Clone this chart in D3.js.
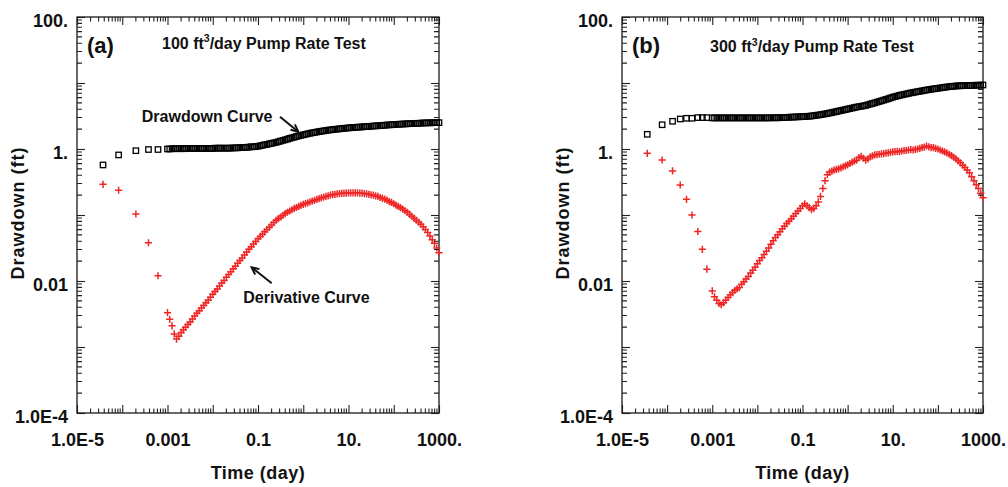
<!DOCTYPE html>
<html>
<head>
<meta charset="utf-8">
<script src="https://cdn.jsdelivr.net/npm/d3@7"></script>
<style>
  body { margin: 0; background: #fff; }
  svg text { font-family: "Liberation Sans", Arial, sans-serif; font-weight: bold; fill: #111; }
</style>
</head>
<body>
<script>
// axis tick labels
const xTickValues = [1e-5, 1e-3, 1e-1, 10, 1000];
const xTickLabels = ["1.0E-5", "0.001", "0.1", "10.", "1000."];
const yTickValues = [1e-4, 1e-2, 1, 100];
const yTickLabels = ["1.0E-4", "0.01", "1.", "100."];
const xDecades = [1e-5, 1e-4, 1e-3, 1e-2, 1e-1, 1, 10, 100, 1000];
const yDecades = [1e-4, 1e-3, 1e-2, 1e-1, 1, 10, 100];

// sample times (day) after the first few readings
const timeGrid = [
  1.00e-3, 1.12e-3, 1.26e-3, 1.41e-3, 1.58e-3, 1.78e-3, 2.00e-3, 2.24e-3, 2.51e-3, 2.82e-3,
  3.16e-3, 3.55e-3, 3.98e-3, 4.47e-3, 5.01e-3, 5.62e-3, 6.31e-3, 7.08e-3, 7.94e-3, 8.91e-3,
  1.00e-2, 1.12e-2, 1.26e-2, 1.41e-2, 1.58e-2, 1.78e-2, 2.00e-2, 2.24e-2, 2.51e-2, 2.82e-2,
  3.16e-2, 3.55e-2, 3.98e-2, 4.47e-2, 5.01e-2, 5.62e-2, 6.31e-2, 7.08e-2, 7.94e-2, 8.91e-2,
  1.00e-1, 1.12e-1, 1.26e-1, 1.41e-1, 1.58e-1, 1.78e-1, 2.00e-1, 2.24e-1, 2.51e-1, 2.82e-1,
  3.16e-1, 3.55e-1, 3.98e-1, 4.47e-1, 5.01e-1, 5.62e-1, 6.31e-1, 7.08e-1, 7.94e-1, 8.91e-1,
  1.00, 1.12, 1.26, 1.41, 1.58, 1.78, 2.00, 2.24, 2.51, 2.82,
  3.16, 3.55, 3.98, 4.47, 5.01, 5.62, 6.31, 7.08, 7.94, 8.91,
  10.0, 11.2, 12.6, 14.1, 15.8, 17.8, 20.0, 22.4, 25.1, 28.2,
  31.6, 35.5, 39.8, 44.7, 50.1, 56.2, 63.1, 70.8, 79.4, 89.1,
  100, 112, 126, 141, 158, 178, 200, 224, 251, 282,
  316, 355, 398, 447, 501, 562, 631, 708, 794, 891,
  1000
];

// (a) 100 ft3/day
const earlyTimeA = [3.76e-5, 8.32e-5, 2.0e-4, 3.8e-4, 6.17e-4];
const earlyDrawA = [0.573, 0.813, 0.942, 0.982, 0.982];
const earlyDerivA = [0.292, 0.237, 0.1035, 0.038, 0.012];
const drawA = [
  1.00, 1.00, 1.01, 1.01, 1.01, 1.01, 1.01, 1.01, 1.02, 1.02, 1.02, 1.02, 1.02, 1.02, 1.02, 1.02, 1.02, 1.02, 1.02, 1.02,
  1.02, 1.03, 1.03, 1.03, 1.03, 1.03, 1.03, 1.03, 1.03, 1.04, 1.04, 1.04, 1.05, 1.05, 1.06, 1.06, 1.07, 1.08, 1.08, 1.09,
  1.10, 1.12, 1.14, 1.16, 1.17, 1.20, 1.22, 1.24, 1.26, 1.29, 1.32, 1.35, 1.38, 1.41, 1.45, 1.48, 1.51, 1.55, 1.58, 1.61,
  1.64, 1.67, 1.70, 1.73, 1.76, 1.78, 1.81, 1.84, 1.86, 1.88, 1.91, 1.93, 1.95, 1.97, 1.99, 2.00, 2.02, 2.04, 2.06, 2.07,
  2.09, 2.10, 2.11, 2.13, 2.14, 2.15, 2.16, 2.18, 2.19, 2.20, 2.21, 2.23, 2.24, 2.25, 2.26, 2.28, 2.29, 2.31, 2.32, 2.33,
  2.34, 2.35, 2.37, 2.38, 2.39, 2.40, 2.41, 2.42, 2.43, 2.44, 2.45, 2.45, 2.47, 2.48, 2.48, 2.49, 2.49, 2.50, 2.51, 2.51,
  2.51
];
const derivA = [
  0.00331, 0.00263, 0.00209, 0.00158, 0.00132, 0.00145, 0.00166, 0.00182, 0.00200, 0.00219,
  0.00240, 0.00266, 0.00295, 0.00324, 0.00355, 0.00389, 0.00427, 0.00468, 0.00513, 0.00569,
  0.00631, 0.00692, 0.00759, 0.00841, 0.00933, 0.0102, 0.0114, 0.0126, 0.0138, 0.0153,
  0.0168, 0.0186, 0.0204, 0.0224, 0.0248, 0.0275, 0.0302, 0.0331, 0.0363, 0.0398,
  0.0437, 0.0473, 0.0513, 0.0556, 0.0603, 0.0653, 0.0708, 0.0767, 0.0832, 0.0881,
  0.0933, 0.0989, 0.105, 0.110, 0.115, 0.120, 0.126, 0.130, 0.135, 0.140,
  0.145, 0.149, 0.153, 0.158, 0.162, 0.167, 0.172, 0.177, 0.182, 0.186,
  0.191, 0.195, 0.200, 0.203, 0.206, 0.209, 0.211, 0.213, 0.214, 0.215,
  0.216, 0.217, 0.217, 0.217, 0.216, 0.215, 0.214, 0.211, 0.209, 0.206,
  0.202, 0.200, 0.195, 0.191, 0.184, 0.179, 0.174, 0.168, 0.160, 0.155,
  0.148, 0.141, 0.135, 0.129, 0.123, 0.116, 0.110, 0.102, 0.0955, 0.0891,
  0.0832, 0.0776, 0.0724, 0.0661, 0.0603, 0.0543, 0.0479, 0.0422, 0.0372, 0.0316,
  0.0269
];

// (b) 300 ft3/day
const earlyTimeB = [3.63e-5, 7.76e-5, 1.32e-4, 1.95e-4, 2.69e-4, 3.55e-4, 4.79e-4, 6.03e-4, 7.59e-4];
const earlyDrawB = [1.67, 2.33, 2.63, 2.85, 2.92, 2.92, 2.99, 2.99, 2.99];
const earlyDerivB = [0.861, 0.681, 0.465, 0.285, 0.173, 0.100, 0.0562, 0.0302, 0.0151];
const drawB = [
  2.96, 2.96, 2.96, 2.96, 2.96, 2.96, 2.96, 2.96, 2.96, 2.96, 2.96, 2.96, 2.96, 2.96, 2.96, 2.96, 2.96, 2.96, 2.96, 2.96,
  2.96, 2.96, 2.96, 2.96, 2.96, 2.96, 2.97, 2.97, 2.97, 2.97, 2.98, 2.99, 3.00, 3.01, 3.03, 3.04, 3.05, 3.06, 3.07, 3.08,
  3.09, 3.10, 3.13, 3.14, 3.16, 3.20, 3.24, 3.27, 3.31, 3.36, 3.40, 3.45, 3.51, 3.56, 3.63, 3.69, 3.76, 3.82, 3.89, 3.95,
  4.03, 4.09, 4.17, 4.24, 4.32, 4.38, 4.44, 4.50, 4.57, 4.68, 4.79, 4.90, 5.01, 5.13, 5.25, 5.37, 5.50, 5.64, 5.78, 5.93,
  6.10, 6.22, 6.35, 6.49, 6.61, 6.73, 6.84, 6.97, 7.08, 7.18, 7.28, 7.40, 7.50, 7.60, 7.73, 7.83, 7.94, 8.04, 8.13, 8.22,
  8.32, 8.41, 8.51, 8.61, 8.71, 8.79, 8.87, 8.93, 9.02, 9.04, 9.08, 9.10, 9.12, 9.14, 9.16, 9.18, 9.23, 9.25, 9.27, 9.29,
  9.33
];
const derivB = [
  0.00708, 0.00575, 0.00513, 0.00457, 0.00437, 0.00468, 0.00513, 0.00562, 0.00617, 0.00668,
  0.00724, 0.00759, 0.00794, 0.00891, 0.00977, 0.0107, 0.0117, 0.0132, 0.0145, 0.0162,
  0.0182, 0.0204, 0.0226, 0.0251, 0.0282, 0.0316, 0.0359, 0.0407, 0.0457, 0.0501,
  0.0556, 0.0617, 0.0676, 0.0741, 0.0804, 0.0881, 0.0955, 0.105, 0.115, 0.126,
  0.138, 0.148, 0.138, 0.129, 0.120, 0.126, 0.138, 0.158, 0.191, 0.251,
  0.331, 0.407, 0.447, 0.462, 0.479, 0.490, 0.501, 0.519, 0.537, 0.556,
  0.575, 0.603, 0.631, 0.653, 0.676, 0.741, 0.776, 0.724, 0.676, 0.708,
  0.759, 0.785, 0.813, 0.822, 0.832, 0.841, 0.851, 0.863, 0.875, 0.891,
  0.902, 0.912, 0.923, 0.912, 0.933, 0.944, 0.955, 0.966, 0.977, 0.966,
  0.989, 1.00, 1.02, 1.05, 1.07, 1.11, 1.08, 1.05, 1.05, 1.02,
  1.00, 0.966, 0.933, 0.902, 0.871, 0.832, 0.794, 0.750, 0.708, 0.661,
  0.617, 0.569, 0.525, 0.479, 0.437, 0.380, 0.331, 0.288, 0.251, 0.214,
  0.182
];

const width = 1008, height = 487;
const red = "#ee2626";

const svg = d3.select("body").append("svg").attr("width", width).attr("height", height);

// 2..9 within each decade
function minorTicks(decades) {
  const out = [];
  for (let i = 0; i < decades.length - 1; i++) {
    for (let m = 2; m < 10; m++) out.push(decades[i] * m);
  }
  return out;
}

function drawPanel(p) {
  const x = d3.scaleLog().domain([1e-5, 1e3]).range([p.left, p.right]);
  const y = d3.scaleLog().domain([1e-4, 100]).range([p.bottom, p.top]);
  const g = svg.append("g");

  const xLabel = v => { const i = xTickValues.findIndex(t => Math.abs(t - v) / v < 1e-6); return i < 0 ? "" : xTickLabels[i]; };
  const yLabel = v => { const i = yTickValues.findIndex(t => Math.abs(t - v) / v < 1e-6); return i < 0 ? "" : yTickLabels[i]; };
  const blank = () => "";

  function addAxis(axis, tr, fmt, pad) {
    const a = g.append("g").attr("transform", tr)
      .call(axis.tickSizeInner(-8).tickSizeOuter(0).tickPadding(pad).tickFormat(fmt));
    a.select(".domain").remove();
    a.selectAll(".tick line").attr("stroke", "#222").attr("stroke-width", 1.1);
    return a;
  }

  const bx = addAxis(d3.axisBottom(x).tickValues(xDecades), `translate(0,${p.bottom})`, xLabel, 20);
  const ly = addAxis(d3.axisLeft(y).tickValues(yDecades), `translate(${p.left},0)`, yLabel, 9);
  addAxis(d3.axisTop(x).tickValues(xDecades), `translate(0,${p.top})`, blank, 0);
  addAxis(d3.axisRight(y).tickValues(yDecades), `translate(${p.right},0)`, blank, 0);

  bx.selectAll("text").attr("font-size", 18).attr("fill", "#111");
  ly.selectAll("text").attr("font-size", 18).attr("fill", "#111").attr("dy", "0.52em");

  g.append("rect")
    .attr("x", p.left).attr("y", p.top)
    .attr("width", p.right - p.left).attr("height", p.bottom - p.top)
    .attr("fill", "none").attr("stroke", "#1a1a1a").attr("stroke-width", 1.3);

  // axis titles
  g.append("text")
    .attr("transform", `translate(${p.left - 53},${213}) rotate(-90)`)
    .attr("text-anchor", "middle").attr("font-size", 18).attr("letter-spacing", 1)
    .text("Drawdown (ft)");
  g.append("text")
    .attr("x", (p.left + p.right) / 2).attr("y", 479)
    .attr("text-anchor", "middle").attr("font-size", 18).attr("letter-spacing", 0.5)
    .text("Time (day)");

  // panel tag and title
  g.append("text").attr("x", p.left + 10).attr("y", 53).attr("font-size", 22).text(p.tag);
  const t = g.append("text").attr("x", p.left + p.titleDx).attr("y", p.titleY).attr("font-size", 16);
  t.append("tspan").text(p.rate + " ft");
  t.append("tspan").attr("font-size", 10.5).attr("dy", -6.5).text("3");
  t.append("tspan").attr("dy", 6.5).text("/day Pump Rate Test");

  const times = p.earlyTime.concat(timeGrid);
  const drawdown = p.earlyDraw.concat(p.draw);
  const deriv = p.earlyDeriv.concat(p.deriv);

  const plot = g.append("g");
  plot.selectAll("rect.dd")
    .data(d3.zip(times, drawdown))
    .join("rect")
    .attr("class", "dd")
    .attr("x", d => x(d[0]) - 2.7).attr("y", d => y(d[1]) - 2.7)
    .attr("width", 5.4).attr("height", 5.4)
    .attr("fill", "none").attr("stroke", "#000").attr("stroke-width", 1.3);

  plot.selectAll("path.dv")
    .data(d3.zip(times, deriv))
    .join("path")
    .attr("class", "dv")
    .attr("transform", d => `translate(${x(d[0])},${y(d[1])})`)
    .attr("d", "M-3.6,0H3.6M0,-3.6V3.6")
    .attr("stroke", red).attr("stroke-width", 1.5);

  return { x: x, y: y, g: g, p: p };
}

// minor ticks for a panel, inward on all four sides, as one path
function drawMinorTicks(panel) {
  const p = panel.p, x = panel.x, y = panel.y;
  let d = "";
  minorTicks(xDecades).forEach(v => {
    const px = x(v).toFixed(2);
    d += `M${px},${p.bottom}V${p.bottom - 4.5}M${px},${p.top}V${p.top + 4.5}`;
  });
  minorTicks(yDecades).forEach(v => {
    const py = y(v).toFixed(2);
    d += `M${p.left},${py}H${p.left + 5}M${p.right},${py}H${p.right - 5}`;
  });
  svg.append("path").attr("d", d).attr("fill", "none").attr("stroke", "#222").attr("stroke-width", 1.1);
}

function arrow(g, x1, y1, x2, y2) {
  const ang = Math.atan2(y2 - y1, x2 - x1);
  const h = 8, w = 0.45;
  g.append("line").attr("x1", x1).attr("y1", y1).attr("x2", x2).attr("y2", y2)
    .attr("stroke", "#111").attr("stroke-width", 2);
  g.append("path")
    .attr("d", `M${x2 - h * Math.cos(ang - w)},${y2 - h * Math.sin(ang - w)}L${x2},${y2}L${x2 - h * Math.cos(ang + w)},${y2 - h * Math.sin(ang + w)}`)
    .attr("fill", "none").attr("stroke", "#111").attr("stroke-width", 2);
}

const pa = drawPanel({
  left: 77, right: 439, top: 17, bottom: 413, tag: "(a)", rate: "100",
  titleDx: 85, titleY: 48.5,
  earlyTime: earlyTimeA, earlyDraw: earlyDrawA, earlyDeriv: earlyDerivA, draw: drawA, deriv: derivA
});
const pb = drawPanel({
  left: 622, right: 983, top: 17, bottom: 413, tag: "(b)", rate: "300",
  titleDx: 88, titleY: 52,
  earlyTime: earlyTimeB, earlyDraw: earlyDrawB, earlyDeriv: earlyDerivB, draw: drawB, deriv: derivB
});
drawMinorTicks(pa);
drawMinorTicks(pb);

// annotations in panel (a), placed in data units
pa.g.append("text").attr("x", pa.x(2.7e-4)).attr("y", pa.y(2.6)).attr("font-size", 16).text("Drawdown Curve");
arrow(pa.g, pa.x(0.306), pa.y(3.08), pa.x(0.776), pa.y(1.83));
pa.g.append("text").attr("x", pa.x(0.0473)).attr("y", pa.y(0.00464)).attr("font-size", 16).text("Derivative Curve");
arrow(pa.g, pa.x(0.201), pa.y(0.00923), pa.x(0.0724), pa.y(0.0161));
</script>
</body>
</html>
